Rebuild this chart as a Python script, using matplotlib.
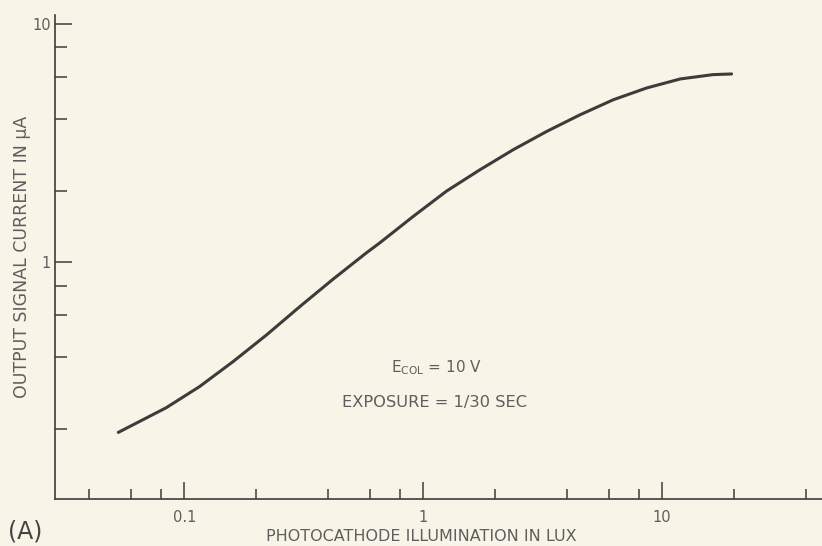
import matplotlib
matplotlib.use('Agg')
import matplotlib.pyplot as plt
from matplotlib.ticker import FixedLocator, FixedFormatter, NullFormatter

# transfer characteristic
lux = [0.053, 0.084, 0.116, 0.160, 0.221, 0.305, 0.420, 0.580, 0.659, 0.908,
       1.25, 1.73, 2.38, 3.28, 4.53, 6.24, 8.61, 11.9, 16.3, 19.5]
current = [0.194, 0.246, 0.302, 0.384, 0.497, 0.654, 0.852, 1.10, 1.21, 1.56,
           1.99, 2.45, 2.97, 3.54, 4.16, 4.81, 5.39, 5.88, 6.13, 6.17]

x_major = [0.1, 1, 10]
x_major_labels = ['0.1', '1', '10']
x_minor = [0.04, 0.06, 0.08, 0.2, 0.4, 0.6, 0.8, 2, 4, 6, 8, 20, 40]
y_major = [1, 10]
y_major_labels = ['1', '10']
y_minor = [0.2, 0.4, 0.6, 0.8, 2, 4, 6, 8]

paper = '#f8f5e8'
ink = '#3c3c3c'
grey = '#5e5e5e'

fig = plt.figure(figsize=(8.22, 5.46), dpi=100, facecolor=paper)
ax = fig.add_axes([55 / 822, 47 / 546, 767 / 822, 484 / 546], facecolor=paper)

ax.plot(lux, current, color=ink, lw=2.2, solid_capstyle='round', solid_joinstyle='round')

ax.set_xscale('log')
ax.set_yscale('log')
ax.set_xlim(0.0288, 46.6)
ax.set_ylim(0.102, 10.9)

for side in ('top', 'right'):
    ax.spines[side].set_visible(False)
for side in ('left', 'bottom'):
    ax.spines[side].set_color(ink)
    ax.spines[side].set_linewidth(1.2)

ax.xaxis.set_major_locator(FixedLocator(x_major))
ax.xaxis.set_major_formatter(FixedFormatter(x_major_labels))
ax.xaxis.set_minor_locator(FixedLocator(x_minor))
ax.xaxis.set_minor_formatter(NullFormatter())
ax.yaxis.set_major_locator(FixedLocator(y_major))
ax.yaxis.set_major_formatter(FixedFormatter(y_major_labels))
ax.yaxis.set_minor_locator(FixedLocator(y_minor))
ax.yaxis.set_minor_formatter(NullFormatter())

ax.tick_params(axis='x', which='major', direction='in', length=12, width=1.1,
               color=ink, labelsize=10.5, labelcolor=grey, pad=8)
ax.tick_params(axis='x', which='minor', direction='in', length=7.5, width=1.1, color=ink)
ax.tick_params(axis='y', which='major', direction='in', length=12, width=1.1,
               color=ink, labelsize=10.5, labelcolor=grey, pad=3)
ax.tick_params(axis='y', which='minor', direction='in', length=8.5, width=1.1, color=ink)

ax.set_xlabel('PHOTOCATHODE ILLUMINATION IN LUX', fontsize=11.5, color=grey)
ax.xaxis.set_label_coords(0.477, -0.063)
ax.set_ylabel('OUTPUT SIGNAL CURRENT IN μA', fontsize=12.5, color=grey)
ax.yaxis.set_label_coords(-0.0319, 0.5006)

ax.text(0.498, 0.271, r'E$_{\mathregular{COL}}$ = 10 V', transform=ax.transAxes,
        fontsize=11, color=grey, ha='center', va='center')
ax.text(0.495, 0.200, 'EXPOSURE = 1/30 SEC', transform=ax.transAxes,
        fontsize=11.7, color=grey, ha='center', va='center')

fig.text(8 / 822, 1 - 532 / 546, '(A)', fontsize=17, color='#444444',
         ha='left', va='center')

fig.savefig('out.png', dpi=100, facecolor=paper)
